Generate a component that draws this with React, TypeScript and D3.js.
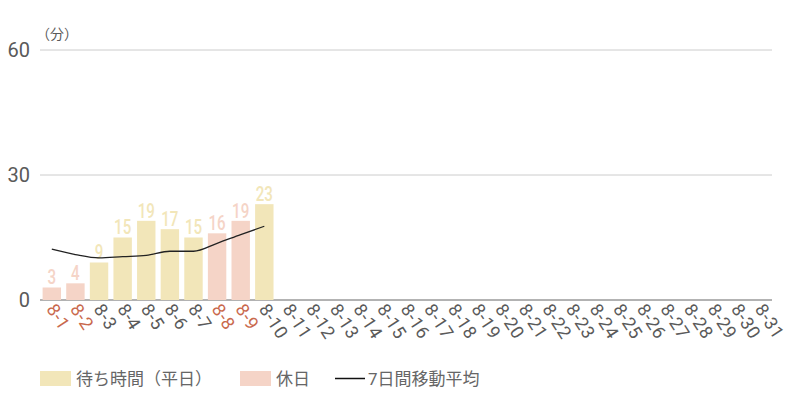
import * as d3 from "d3";
import React from "react";

const days = Array.from({ length: 31 }, (_, i) => `8-${i + 1}`);
const waitTimes = [3, 4, 9, 15, 19, 17, 15, 16, 19, 23];
const holidays = ["8-1", "8-2", "8-8", "8-9"];
const movingAvg = [12.2, 10.9, 10.1, 10.4, 10.7, 11.7, 11.7, 13.6, 15.7, 17.7];
const yTicks = [0, 30, 60];

const WEEKDAY = "#f2e6b9";
const HOLIDAY = "#f5d4c7";
const HOLIDAY_TEXT = "#c9694d";
const TEXT = "#5a5a5a";

export default function App() {
  const width = 800;
  const height = 400;
  const left = 40;
  const right = 772;
  const top = 50;
  const bottom = 300;

  const x = d3.scaleBand().domain(days).range([left, right]).paddingInner(0.22).paddingOuter(0.11);
  const y = d3.scaleLinear().domain([0, 60]).range([bottom, top]);

  const line = d3
    .line<number>()
    .x((_, i) => x(days[i])! + x.bandwidth() / 2)
    .y((d) => y(d))
    .curve(d3.curveMonotoneX);

  const font = "Roboto, 'Noto Sans CJK JP', sans-serif";

  return (
    <svg width={width} height={height} style={{ position: "absolute", left: 0, top: 0 }} fontFamily={font}>
      <rect width={width} height={height} fill="#fff" />
      {yTicks.map((t) => (
        <g key={t}>
          <line x1={left} x2={right} y1={y(t)} y2={y(t)} stroke={t === 0 ? "#666" : "#ccc"} strokeWidth={1} />
          <text x={30} y={y(t) + 7} textAnchor="end" fontSize={20} fill={TEXT}>
            {t}
          </text>
        </g>
      ))}
      <text x={36} y={39} fontSize={14} fill={TEXT}>（分）</text>

      {waitTimes.map((v, i) => {
        const day = days[i];
        const hol = holidays.includes(day);
        const cx = x(day)! + x.bandwidth() / 2;
        return (
          <g key={day}>
            <rect x={x(day)} y={y(v)} width={x.bandwidth()} height={bottom - y(v)} fill={hol ? HOLIDAY : WEEKDAY} />
            <text
              x={cx}
              y={y(v) - 3}
              textAnchor="middle"
              fontSize={21}
              fontWeight={500}
              fill={hol ? HOLIDAY : WEEKDAY}
              transform={`translate(${cx},0) scale(0.72,1) translate(${-cx},0)`}
            >
              {v}
            </text>
          </g>
        );
      })}

      <path d={line(movingAvg) ?? ""} fill="none" stroke="#222" strokeWidth={1.3} />

      {days.map((d) => {
        const cx = x(d)! + x.bandwidth() / 2 - 6;
        return (
          <text
            key={d}
            transform={`translate(${cx},${bottom + 9}) rotate(57)`}
            fontSize={18}
            letterSpacing={0.5}
            fill={holidays.includes(d) ? HOLIDAY_TEXT : TEXT}
          >
            {d}
          </text>
        );
      })}

      <g fontSize={17} fill="#666">
        <rect x={40} y={371} width={31} height={15} fill={WEEKDAY} />
        <text x={76} y={385}>待ち時間（平日）</text>
        <rect x={240} y={371} width={31} height={15} fill={HOLIDAY} />
        <text x={276} y={385}>休日</text>
        <line x1={335} x2={365} y1={378.5} y2={378.5} stroke="#111" strokeWidth={1.5} />
        <text x={368} y={385}>7日間移動平均</text>
      </g>
    </svg>
  );
}
